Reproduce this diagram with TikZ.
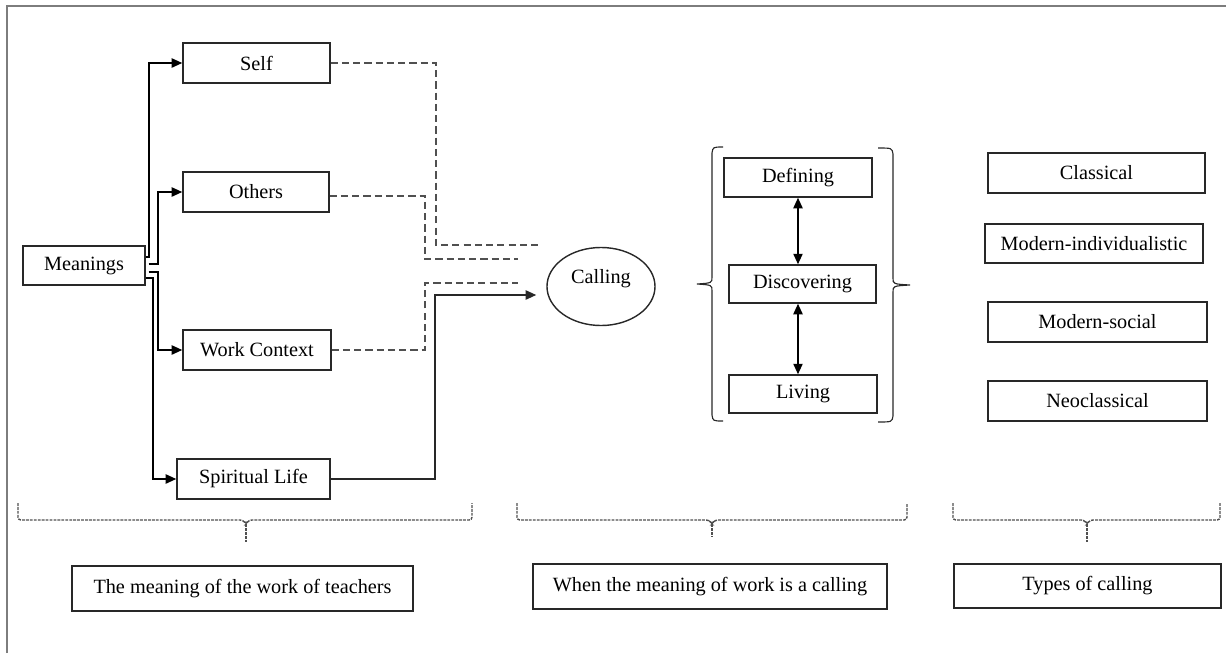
\documentclass[tikz,border=0pt]{standalone}
\usepackage{fontspec}
\setmainfont{Liberation Serif}
\definecolor{boxgrey}{RGB}{40, 40, 40}
\definecolor{dashgrey}{RGB}{80, 80, 80}
\definecolor{framegrey}{RGB}{125, 125, 125}
\usepackage{tikz}
\usetikzlibrary{shapes.geometric, arrows.meta, calc}

\begin{document}
\begin{tikzpicture}[x=0.025cm, y=-0.025cm,
    box/.style={draw=boxgrey, line width=1pt, inner sep=0pt,
                font=\fontsize{14.4}{16}\selectfont},
    arr/.style={-{Triangle[length=7.5pt,width=6.5pt]}, line width=1.3pt},
    dbl/.style={{Triangle[length=7.5pt,width=6.5pt]}-{Triangle[length=7.5pt,width=6.5pt]}, line width=1.3pt},
    dashline/.style={dashgrey, dash pattern=on 5pt off 3pt, line width=1pt},
    bracedash/.style={dashgrey, dash pattern=on 2pt off 0.8pt, line width=1pt, rounded corners=2pt}]
    \useasboundingbox (0,0) rectangle (1226,653);

    % Frame
    \draw[framegrey, line width=1.2pt] (7,653) -- (7,6) -- (1226,6);

    % Meanings and its four fields
    \node[box, minimum width=3.05cm, minimum height=0.975cm] (mean) at (84,265.5) {Meanings};
    \node[box, minimum width=3.675cm, minimum height=1cm] (self) at (256.5,63) {Self};
    \node[box, minimum width=3.65cm, minimum height=1cm] (others) at (256,192) {Others};
    \node[box, minimum width=3.7cm, minimum height=1cm] (work) at (257,350) {Work Context};
    \node[box, minimum width=3.825cm, minimum height=1cm] (spirit) at (253.5,479) {Spiritual Life};

    % Arrows
    \draw[arr] ($(mean.east)+(0,-8.5)$) -- ++(3,0) |- (self.west);
    \draw[arr] ($(mean.east)+(3,-1.5)$) -- ++(9,0) |- (others.west);
    \draw[arr] ($(mean.east)+(3,6.5)$) -- ++(9,0) |- (work.west);
    \draw[arr] ($(mean.east)+(0,12.5)$) -- ++(7,0) |- (spirit.west);

    % Calling
    \node[box, ellipse, minimum width=2.7cm, minimum height=1.95cm,
          text height=0.35cm, text depth=0.5cm] (call) at (601,286.5) {Calling};

    \coordinate (dself) at (540,245);
    \coordinate (doth) at (518,259);
    \coordinate (dwork) at (518,283);
    \draw[dashline] (self.east) -| (436,245) -- (dself);
    \draw[dashline] ([yshift=-0.1cm]others.east) -| (425,259) -- (doth);
    \draw[dashline] (work.east) -| (425,283) -- (dwork);
    \draw[arr, boxgrey] (spirit.east) -| (435,295) -- ($(call.west)+(-10,8.5)$);

    % Process of calling
    \node[box, minimum width=3.7cm, minimum height=0.975cm] (def) at (798,177.5) {Defining};
    \node[box, minimum width=3.675cm, minimum height=0.95cm] (disc) at (802.5,284) {Discovering};
    \node[box, minimum width=3.7cm, minimum height=0.95cm] (liv) at (803,394) {Living};
    \draw[dbl] (def.south) -- (def.south |- disc.north);
    \draw[dbl] (def.south |- disc.south) -- (def.south |- liv.north);

    % Braces
    \draw[boxgrey, line width=0.8pt] (723,147) .. controls (713,147) .. (712,153) -- (712,277)
        .. controls (712,283) .. (697,284) .. controls (712,285) .. (712,291) -- (712,415)
        .. controls (713,421) .. (723,421);
    \draw[boxgrey, line width=0.8pt] (878,148) .. controls (892,148) .. (893,154) -- (893,278)
        .. controls (893,284) .. (910,285) .. controls (893,286) .. (893,292) -- (893,416)
        .. controls (892,422) .. (878,422);

    % Types of calling
    \node[box, minimum width=5.425cm, minimum height=1cm] (clas) at (1096.5,173) {Classical};
    \node[box, minimum width=5.45cm, minimum height=0.975cm] (modi) at (1094,243.5) {Modern-individualistic};
    \node[box, minimum width=5.475cm, minimum height=1cm] (mods) at (1097.5,322) {Modern-social};
    \node[box, minimum width=5.475cm, minimum height=1cm] (neo) at (1097.5,401) {Neoclassical};

    % Bottom braces
    \draw[bracedash] (18,503) -- (18,520) -- (243,520) -- (246,524) -- (249,520) -- (472,520) -- (472,503);
    \draw[bracedash] (246,524) -- (246,542);
    \draw[bracedash] (517,503) -- (517,520) -- (709,520) -- (712,524) -- (715,520) -- (907,520) -- (907,503);
    \draw[bracedash] (712,524) -- (712,537);
    \draw[bracedash] (953,503) -- (953,520) -- (1084,520) -- (1087,524) -- (1090,520) -- (1220,520) -- (1220,503);
    \draw[bracedash] (1087,524) -- (1087,542);

    % Titles
    \node[box, minimum width=8.525cm, minimum height=1.125cm] (teach) at (242.5,588.5) {The meaning of the work of teachers};
    \node[box, minimum width=8.85cm, minimum height=1.125cm] (when) at (710,586.5) {When the meaning of work is a calling};
    \node[box, minimum width=6.675cm, minimum height=1.1cm] (types) at (1087.5,586) {Types of calling};
\end{tikzpicture}
\end{document}
